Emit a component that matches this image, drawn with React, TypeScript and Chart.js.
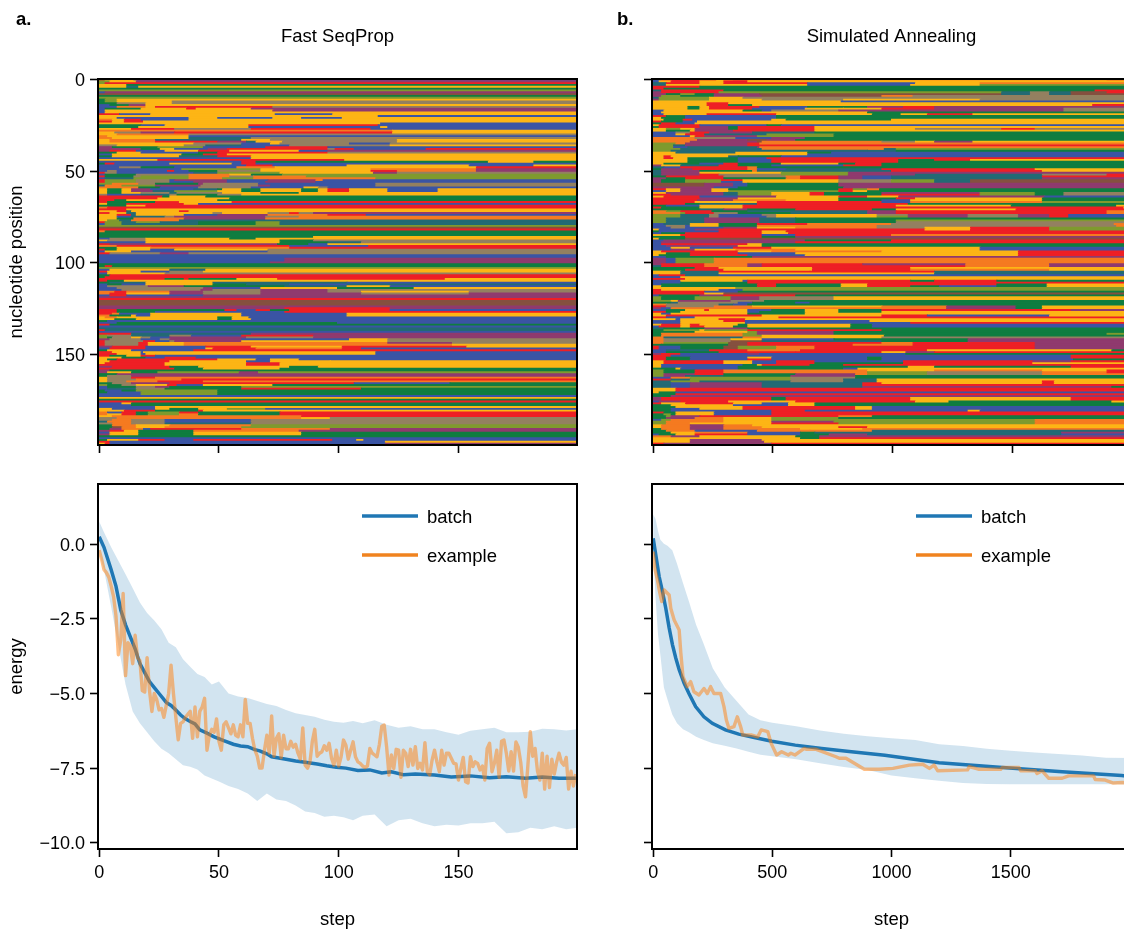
import { useEffect, useRef } from "react";
import { Chart, registerables } from "chart.js";

Chart.register(...registerables);

const palette: Record<string, string> = {
  R: "#EE1F25", Y: "#FDB515", G: "#0F7D40", B: "#3A54A4", O: "#F57A20",
  M: "#8F3A6E", T: "#236A74", L: "#7F9A2E", N: "#938060", W: "#85503F",
};

// each row: colour letter + step at which that colour ends
const rowsA = [
  "R3Y15B200","L5Y16M200","L3R200","Y12G200","Y12T17Y200","G200","L200","B3M200","W200","G200",
  "L200","G3L8Y200","G3L8Y31N200","G8N20Y31N200","B5G13M20Y200","B8O20Y24R73N200","B3G18Y37R41Y64M200","B3Y73M200","B3Y200","R9B22Y74B98Y200",
  "Y117B200","Y8B38Y50B73Y85B102Y200","O6Y11R18B38Y200","R6Y11R19Y200","Y118B200","G18B28Y63R117B200","G17Y63B118Y121B200","Y14R32N64R114B200","O123Y200","Y7N18M32R123Y200",
  "Y8O38N200","O4Y38B200","O6Y38T64N200","Y5O24T60Y72N125Y200","Y5O24R50M62T66Y77N125Y200","Y40N60B72Y76N105B122N200","N8Y36N45T60B80N122Y200","M6G25L44B70R96B200","M18G26Y32B46M54R96N99R107B137R200","M5R16B28Y42R55Y84B96M200",
  "G8Y18B42G50R96N200","B6Y35G44R54Y200","G6Y34T50R64Y200","B64Y200","Y25R103Y200","B60R66G163Y182G200","G3R7B30Y56B60R66B200","B62R73B104Y155B182Y200","B9N18G32B58O74Y158R200","B35L68Y114O158M200",
  "B4N8B29R32B38G50N68Y114R125O158M200","R3N8B40T50L76Y115M125N200","B3G16N38O55Y64G77L200","R3G15N18L38O55N65O87L200","B3T15L38O52L65O116L200","R3L16N30B32M54B71M91O94B200","R3L16N30B40M54B70M91B200","L6O17N24G42M44N67B91B116N200","T3O10L24M43N67M72B116N200","O5O17G26B42N64B86Y92N96B200",
  "Y4G10Y14M22B40T50G52Y60G68Y85G92Y96R105Y121B142Y200","Y4G10Y14M23T32L50Y60G68Y85G92Y96R105Y121B142Y200","Y4G10Y18N30T33N52Y68G84Y200","N4B18T30N33G50N60Y200","R27G30Y45G200","R25Y55G200","R7G12Y50G200","R4G24R34Y56R200","Y4G12R36Y42B200","G12Y20R200",
  "O4R200","R12Y200","Y8R12T14Y34R38Y200","R5Y12T16Y48N52Y71N80R84N90M200","Y8R14T16Y36B50M71O96R112B200","Y8B14T28N32M70N84O200","Y8G15O36M70O200","Y4L9T14O34T200","R3L10T16L26T42G66L76T200","B3L10T42G66L76T200",
  "L200","W200","R200","O3G200","G200","G200","G90Y200","B5N20Y55G66Y200","Y4N20Y76G90N200","B20Y76G96T110N200",
  "R5M75G88B96Y200","O8R80B113R200","G8Y22O80R200","R3G8Y22B32Y71N200","B3Y14B71N200","R5N26M38N200","B200","B200","B78M200","B78M200",
  "B72M200","G200","G3R6G200","L200","B5Y30T45Y200","R4Y18B30N44Y200","B4Y28N200","G5R200","G3R200","R28G36R38G58Y75R145Y200",
  "R4G11Y200","G5T20Y48T104B200","B4G10B20Y48G62T80B104T200","B4N21M36G50G78T104Y122B200","B8N44M48B68Y86Y100G132Y200","B10N43M48N68M96N200","O7R12O30M44N68M96N110Y155N200","O5R12Y30M44N68M110N155M200","B5R12B44M200","M200",
  "R200","W200","W200","W200","M200","M78R122M200","R8G50G53R58B66R72G80R122B200","R8G24B78R200","R6O9B22Y60B104Y200","O5G14Y16B22Y60B104Y200",
  "Y3O8Y50G56Y63B200","Y7G16Y50G56Y64B200","G4B200","B8G100B200","R5G200","B200","T200","R3T200","B200","R14T64M200",
  "L4N14T30N39B60R90M200","L4G6N14Y18N22B30M62N90M200","M5N18B26N30M60B105Y121N200","R3N19R24B30N32M60Y121N200","R3N17R21Y36O121M148N200","R3N17R21Y36O148Y200","M6R20B45R64Y102R154Y200","B5R20B45Y48R66O102R110B200","G4Y14B40R200","R6Y18B19Y116B200",
  "R8Y18B20Y116B200","R5G12Y18R24B200","Y10G20B28R41B200","Y4G8R50Y66B72Y84B200","Y5R30Y62B72Y97Y200","Y3R28Y62R76Y200","R28Y62R76Y86Y200","M6R30G42Y76Y80G92Y200","R32G44Y76G92G200","M5G200",
  "M4Y14G25L59M67L200","G8M200","G4N14M200","Y4N14R24O200","Y4N16O35R200","Y4N12O25R44O200","G6N14M30R107B147G200","L4G10N16Y29R33B44Y73G200","B4G16N24M30G60L200","B4T16N28G60R110G200",
  "G3B10G16L50G200","G4B18L50G200","B18L50G200","B200","Y200","G200","R200","B10Y14G200","B14G200","B24Y200",
  "Y6B24Y30G42Y54L70B200","Y11R24G42R44Y200","O4B10R16G21L34R42G76R200","O4Y10R16G21L34O42G76R200","Y6O85R200","N8O85Y97N200","N6O14N28B64N200","T4O14N28B64N200","N6O14N28T64N200","G6O16Y30O64L200",
  "G6W10O16Y28O60L200","G5M10O19B22R60O97M200","M5R11Y17G40O84M200","B5Y17G40Y85G200","M5Y17G40Y85G200","G200","B200","G4Y17R28B40R98B108Y111B200","R5B120Y200","Y3R5B120M200",
];

const rowsB = [
  "B4R27Y34O190R200","B3Y8R20Y30R40Y200","T6R20Y30R65B110Y137O200","T6Y65B108Y137L200","R20G200","R5G200","T4R30G185R200","M4R28L146T158N166T175W190R200","M6G12L18G26M45W146T158N166T175W200","M4L12G26M46W96O109N200",
  "T3L24Y38N200","M3L24Y46N80Y137N200","Y79B200","Y23R32Y200","Y23R32G42Y184R200","Y15G20Y24R45B65G90M105R118M200","Y15G20Y24R42B64Y80Y96R118M172N200","B5Y38G46B50N78M172N200","B4Y90G200","B5Y23R52Y92G104Y115R134Y200",
  "R6G14B52G200","Y4G14B52G200","Y5G13R17B50Y56G100Y200","R4G13B19Y200","G4R10B18Y200","Y3R20B48G54B200","G3R20M32G36R68Y200","Y6L12Y18M32G36R68Y110N146R160N200","Y6G16Y18M34R68Y200","B10N16R24M42T68G200",
  "B10Y14R22T48L76G200","B16Y18R22M44L76G200","O18N35B50M64G200","O19M40W48M60G200","O16M44W46O96N110Y118M134Y200","L10O14M40R45O200","L9T14M40R200","L9B15T44M45O200","L8L12T46O97T102L200","L8T90T102G200",
  "Y10T35Y65G75B200","Y65B200","Y5R8Y32T36G54B200","Y5R9Y15G36B48R200","Y15G36B50R103G118R133Y200","Y15G36B50R103G200","Y5G20B30R36G54Y78G85R96G200","M4Y12T28R36G50B80R96G200","T5B12R40O44G200","G4M17R40O44B56T96R160Y200",
  "T4M20G42O44T100R163Y200","T4M20Y54L82M200","T4M20R28N54L82M110T163N190R200","G6R30N56O62R78M88B100T163R200","M6G14R30G56O62R78M88B100T163M200","M4G14L29R38Y78N100L118T133W200","M4G14L29B38Y78N100L118T133W200","W22M34B40G78M200","W22M34B40G78M200","M26B36G80M200",
  "R6Y12M25Y32G78R84L90O95G200","B6Y12M25Y32L78R84Y90G200","Y6M30T36L50Y66R72G96M137L160G172N200","R8M30T36L50Y66R72G96R137L160G172N200","Y5R20B36M52Y78R90Y103M164B200","R20M36Y56Y78G102R110Y163G200","R19M34O56Y78G96B108Y163G200","R18Y44R96B108O163L200","R14G20T44R107G200","G6B20Y38R102Y150G194Y200",
  "R4G20Y38R197Y200","G20T30M40G60R92G102Y152R200","O6L12R25G40T90M102R190O200","O12L14R26N36G58T90M102R190O200","L12T24N28B46N52Y94N107M132N153M166R174B200","L12T24N28B48N52Y94L107M132N153M166R174B200","L6T22M45T60G200","L6T22M45T60G102L200","L6T22M45T60G102N200","B5T16Y28G44R65O100N193O200",
  "B6N14B16Y28G44O94N194O200","B8N14B30M44Y60O94N114Y133R166L200","Y3B18M28R114Y133R166L200","G3B28R46Y56R200","B4G14R46Y57R200","Y12R32R46B60R100O200","G14R33R46G60M200","Y3G14W200","B5M64G100R200","B4M60R200",
  "B4R40Y46G200","B6M36Y46G200","B8Y16B34R50Y137B200","B8M18Y35O60Y137B200","Y4R36Y50O96Y153R200","Y6G16R36B60Y153R200","Y3G16R40B64Y153R200","B6G42M200","M6B10L26O200","M6B10L26O200",
  "M6B10L26O200","M4R22O40M46R88M131O166M200","T4R22O40M46R131O166M200","G18R28Y67R108Y200","G14R30Y67R108O166Y200","Y12T28R66R118T200","Y12T28Y118T200","B3R14T28B200","B12Y200","R14Y200",
  "B12Y18Y38B40R108G118R144G200","B12G40R200","B4G44R52G79Y90R144G165Y200","Y4G44R52G79Y90R108G120B144G165Y200","Y35L200","R4Y28B38L200","R22B36G200","R22Y30W200","B3G20M30R60G200","L4G18L33M45N76Y200",
  "L4G18L33M45N76Y200","L8Y11M33N47G200","G8T11N36B42G60B66G200","O6N28T34B40G200","R6N26O42Y96O123M152G163Y200","M4B8O76O123M152G163Y200","B6G14Y22R24Y40B50G64Y78G96R175M200","R6G12Y40B45G64Y78G96Y200","Y4B8Y40G64Y200","Y6R46Y96R115B166Y200",
  "R6B18Y53R200","Y10B12Y28R39Y200","B12Y30R39B91Y200","B12Y39B108R200","Y4R12Y16R20Y36G40Y83G92B200","B3R12Y16R22Y34G40Y83G92B200","T5G22M40G200","G5L20Y22L40R96G200","G18Y40L44M76G200","G4O38L44M76G190L200",
  "G4O38L46Y97G200","O5T38O46Y96N200","O5N33Y46B76G132M200","O5N33W46T96G132M200","O5L32W40R96O109R160M200","G4G32W40R84O109R160M200","R3B12G30W36L52O68R160M200","R3B12G30W36L52O68R160M200","B6T24R40O62R115Y192G200","B6G28R60R96Y106M118R200",
  "M4R12B40M45B106G200","R8B46B175R200","R6G16B40Y50B90G96B175R200","R6G16B40R50B90G96B176G200","Y5R30Y42B52R68B105R159M175R200","Y5R30Y42B52R68G105R159Y200","Y4B38G44Y46R66G80R200","Y4B36G107Y118G175R200","G10Y12B36G80B86Y200","L5G18R30O90Y118O163Y190R200",
  "L5G18R30O90L115N163O190R200","L5M18R30G60M85O90L115N163O200","L5M14T30G58M85G200","B8O16L58N85G200","R8T16L58N80T94Y200","T8L20T58N80T94Y163R168Y200","T8B16M46T88R96Y163R168Y200","T8B16M46T88R200","T8B16M46T88M192G200","Y10R200",
  "Y10R200","Y3G10B200","G10R200","G8M200","M4R50G56R108Y175R200","M4R50G56R108Y175R200","B3M12R32Y60R96R110Y124G192Y200","R4Y14R34Y46B57Y68G200","G8Y14Y34B46B57Y68G200","G10Y14Y38R85Y92B200",
  "G8B20Y38R85Y92B200","G8B50R64B132Y137B200","R5G10Y26B50R200","G5L8G10Y26B50R200","G6L8M20R78O92G200","G6M18O30Y50L78G200","B4L8O30Y50L78L160O200","L6O30Y50M76L160O200","L6O16Y50R78L160O200","Y4O16M30O42Y200",
  "Y4O16M30O46Y78R90Y200","G4O16M30O62Y88O200","G6O18B44O66O92T200","G8Y18O40B62G68T171M200","B3G10Y18R40B62G74M90T171B200","O8M20Y60G70M200","Y62G70R200","Y16M46Y200","Y16M47Y200","R5M50R200",
];

const heatTicks = [0, 50, 100, 150];
const stepTicksA = [0, 50, 100, 150];
const stepTicksB = [0, 500, 1000, 1500];
const energyTicks = [0, -2.5, -5, -7.5, -10];

const batchStepsA = [0,2,5,7,9,11,13,15,17,19,21,23,25,28,30,32,34,36,38,40,42,45,48,52,56,59,62,65,67,70,72,75,78,82,86,91,95,99,103,108,113,118,122,127,132,140,147,155,163,170,178,185,192,199];
const batchA = [0.25,-0.1,-0.85,-1.4,-2.2,-2.7,-3.1,-3.5,-4.0,-4.3,-4.6,-4.8,-5.0,-5.3,-5.4,-5.55,-5.72,-5.85,-5.94,-6.02,-6.22,-6.33,-6.45,-6.58,-6.7,-6.76,-6.78,-6.88,-6.92,-7.02,-7.12,-7.16,-7.2,-7.26,-7.3,-7.36,-7.42,-7.47,-7.5,-7.58,-7.56,-7.66,-7.62,-7.72,-7.7,-7.73,-7.8,-7.76,-7.82,-7.79,-7.84,-7.8,-7.84,-7.84];

const exampleA = [
  -0.2,-0.5,-0.85,-0.95,-1.1,-1.4,-1.75,-2.4,-3.7,-3.2,
  -1.65,-4.4,-3.3,-3.4,-4.0,-3.05,-3.8,-3.9,-4.9,-4.95,
  -3.8,-4.9,-5.6,-5.0,-5.2,-5.55,-5.5,-5.8,-5.4,-5.0,
  -4.05,-5.0,-5.8,-6.55,-6.0,-5.95,-5.8,-5.7,-5.6,-6.5,
  -5.45,-6.45,-5.6,-5.45,-5.16,-6.9,-6.4,-6.2,-6.3,-5.85,
  -6.6,-6.9,-6.05,-5.95,-6.15,-6.35,-6.05,-6.4,-6.45,-6.05,
  -6.45,-5.2,-6.0,-6.0,-6.5,-6.9,-7.1,-7.5,-7.5,-6.9,
  -6.4,-7.0,-5.75,-7.1,-6.5,-6.35,-7.15,-6.4,-6.85,-6.85,
  -6.6,-6.8,-6.7,-7.0,-7.2,-6.15,-7.4,-7.5,-7.3,-6.6,
  -6.2,-7.1,-7.0,-6.95,-6.75,-6.9,-6.67,-7.17,-7.4,-6.9,
  -7.43,-7.12,-6.56,-6.73,-7.2,-6.9,-6.62,-7.12,-7.29,-7.34,
  -7.43,-7.48,-7.43,-6.84,-7.0,-7.06,-7.12,-6.7,-6.1,-6.06,
  -6.78,-7.73,-7.06,-7.51,-6.87,-6.9,-7.81,-6.9,-7.0,-7.45,
  -6.87,-7.4,-6.78,-7.51,-7.34,-7.56,-6.65,-7.62,-7.73,-7.23,
  -6.9,-7.29,-7.62,-6.9,-7.4,-7.0,-7.0,-7.17,-7.34,-7.36,
  -7.9,-7.51,-7.14,-7.96,-8.0,-7.12,-7.45,-7.29,-7.34,-7.56,
  -7.43,-7.9,-6.84,-6.67,-7.62,-7.34,-6.9,-7.81,-6.6,-6.56,
  -7.0,-7.6,-6.95,-7.6,-6.62,-6.8,-7.3,-8.1,-8.46,-7.4,
  -6.28,-7.1,-6.84,-7.6,-7.9,-7.0,-8.2,-7.1,-8.15,-7.2,
  -7.7,-7.3,-7.0,-7.3,-7.4,-7.14,-8.2,-7.6,-8.1,-7.7,
];

const bandStepsA = [0,2,5,8,11,14,17,20,23,26,29,32,35,38,41,44,47,50,54,58,62,66,70,74,78,82,86,90,94,98,102,106,110,115,120,125,130,135,140,145,150,155,160,165,170,175,180,185,190,195,199.5];
const upperA = [0.76,0.4,-0.1,-0.55,-1.0,-1.47,-1.95,-2.3,-2.55,-2.85,-3.3,-3.45,-3.85,-4.1,-4.35,-4.45,-4.7,-4.6,-5.0,-5.1,-5.15,-5.25,-5.35,-5.42,-5.55,-5.66,-5.72,-5.78,-5.88,-5.95,-5.98,-5.92,-6.0,-5.9,-6.05,-6.15,-6.1,-6.2,-6.2,-6.3,-6.38,-6.25,-6.2,-6.15,-6.3,-6.3,-6.28,-6.18,-6.2,-6.24,-6.2];
const lowerA = [-0.3,-0.85,-2.1,-3.4,-4.7,-5.6,-6.0,-6.3,-6.6,-6.85,-7.0,-7.2,-7.4,-7.45,-7.55,-7.75,-7.85,-7.95,-8.1,-8.2,-8.35,-8.6,-8.35,-8.55,-8.6,-8.75,-8.95,-9.0,-9.13,-9.1,-9.15,-9.25,-9.1,-9.05,-9.45,-9.25,-9.2,-9.35,-9.45,-9.4,-9.42,-9.35,-9.35,-9.3,-9.68,-9.65,-9.5,-9.55,-9.45,-9.55,-9.5];

const batchStepsB = [0,25,39,53,67,81,95,109,130,150,178,213,248,303,359,429,498,596,707,832,972,1200,1480,1716,1966,1999];
const batchB = [0.2,-1.08,-1.59,-2.15,-2.8,-3.37,-3.82,-4.2,-4.66,-5.0,-5.44,-5.78,-6.0,-6.22,-6.36,-6.48,-6.6,-6.73,-6.84,-6.95,-7.07,-7.32,-7.49,-7.62,-7.75,-7.78];

const exampleStepsB = [0,8,18,28,36,46,67,74,88,109,116,125,143,157,171,192,213,227,241,255,283,297,307,318,339,353,367,376,411,439,453,481,495,498,518,539,567,578,595,634,644,684,767,781,809,872,886,914,950,1006,1075,1131,1159,1179,1194,1319,1326,1368,1458,1465,1535,1542,1604,1611,1632,1660,1716,1743,1848,1855,1897,1931,1969,1999];
const exampleB = [-0.25,-0.86,-1.2,-1.64,-1.92,-1.53,-1.7,-2.15,-2.54,-2.87,-3.65,-4.44,-4.77,-4.6,-4.94,-5.05,-4.83,-5.0,-4.77,-5.0,-5.0,-5.44,-5.89,-6.17,-6.11,-5.78,-6.11,-6.39,-6.39,-6.45,-6.22,-6.28,-6.67,-6.67,-7.06,-6.95,-7.06,-7.0,-7.06,-6.84,-6.87,-6.87,-7.12,-7.17,-7.17,-7.47,-7.54,-7.54,-7.54,-7.51,-7.4,-7.37,-7.51,-7.4,-7.59,-7.56,-7.45,-7.54,-7.54,-7.48,-7.48,-7.59,-7.59,-7.68,-7.59,-7.84,-7.84,-7.76,-7.76,-7.88,-7.9,-8.0,-7.98,-8.0];

const bandStepsB = [0,10,20,30,45,60,80,100,125,150,180,210,250,300,350,400,450,500,600,700,800,900,1000,1100,1200,1300,1400,1500,1600,1700,1800,1900,2005];
const upperB = [1.0,0.85,0.45,0.15,0.02,-0.05,-0.2,-0.65,-1.3,-1.92,-2.7,-3.3,-4.15,-4.8,-5.25,-5.7,-5.9,-5.98,-6.1,-6.24,-6.35,-6.43,-6.5,-6.56,-6.7,-6.76,-6.85,-6.92,-6.98,-7.03,-7.08,-7.15,-7.16];
const lowerB = [-0.2,-1.8,-3.0,-3.7,-4.8,-5.2,-5.7,-6.0,-6.2,-6.3,-6.45,-6.55,-6.67,-6.75,-6.84,-6.95,-7.05,-7.1,-7.2,-7.34,-7.46,-7.56,-7.75,-7.84,-7.92,-8.0,-8.03,-8.04,-8.04,-8.04,-8.04,-8.04,-8.04];

const BLACK = "#000000";
const FONT = "'Liberation Sans', Arial, sans-serif";
const SIZE = 18.5;
const TICK_SIZE = 18;
Chart.defaults.font.family = FONT;
Chart.defaults.font.size = SIZE;
Chart.defaults.color = BLACK;

const framePlugin = {
  id: "frame",
  afterDatasetsDraw(chart: any) {
    const { ctx, chartArea: a } = chart;
    ctx.save();
    ctx.strokeStyle = BLACK;
    ctx.lineWidth = 2;
    ctx.strokeRect(a.left, a.top, a.right - a.left, a.bottom - a.top);
    ctx.restore();
  },
};

function keyPlugin() {
  return {
    id: "lineKey",
    afterDatasetsDraw(chart: any) {
      const { ctx, chartArea: a } = chart;
      const items: [string, string, number][] = [
        ["batch", "#1F77B4", 32],
        ["example", "#F0831F", 71],
      ];
      ctx.save();
      ctx.font = `${SIZE}px ${FONT}`;
      ctx.textBaseline = "middle";
      for (const [label, color, dy] of items) {
        ctx.strokeStyle = color;
        ctx.lineWidth = 3.5;
        ctx.beginPath();
        ctx.moveTo(a.left + 264, a.top + dy);
        ctx.lineTo(a.left + 320, a.top + dy);
        ctx.stroke();
        ctx.fillStyle = BLACK;
        ctx.fillText(label, a.left + 329, a.top + dy + 1.5);
      }
      ctx.restore();
    },
  };
}

function letterPlugin(text: string, x: number) {
  return {
    id: "panelLetter",
    afterDraw(chart: any) {
      const { ctx } = chart;
      ctx.save();
      ctx.font = `bold ${SIZE}px ${FONT}`;
      ctx.fillStyle = BLACK;
      ctx.textBaseline = "middle";
      ctx.fillText(text, x, 19.5);
      ctx.restore();
    },
  };
}

function axisBase(ticks: number[], showLabels: boolean, labelOffset: number, fmt?: (v: number) => string) {
  return {
    type: "linear" as const,
    offset: false,
    afterBuildTicks: (s: any) => {
      s.ticks = ticks.map((value) => ({ value }));
    },
    grid: { display: true, offset: false, drawOnChartArea: false, drawTicks: true, tickLength: 8, tickWidth: 1.6, tickColor: BLACK },
    border: { display: false },
    ticks: {
      display: showLabels,
      autoSkip: false,
      maxRotation: 0,
      padding: 5,
      labelOffset,
      color: BLACK,
      font: { size: TICK_SIZE, family: FONT },
      callback: (v: any) => (fmt ? fmt(Number(v)) : String(v)),
    },
  };
}

function fixX(h: number) {
  return (s: any) => {
    s.height = h;
    s.paddingLeft = 0;
    s.paddingRight = 0;
  };
}

function fixY(w: number) {
  return (s: any) => {
    s.width = w;
    s.paddingTop = 0;
    s.paddingBottom = 0;
  };
}

function parseRows(rows: string[]) {
  const data: { x: [number, number]; y: number }[] = [];
  const colors: string[] = [];
  rows.forEach((row, y) => {
    let start = -0.5;
    for (const m of row.matchAll(/([A-Z])(\d+)/g)) {
      const end = Number(m[2]) - 0.5;
      if (end <= start) continue;
      data.push({ x: [start, end], y });
      colors.push(palette[m[1]]);
      start = end;
    }
  });
  return { data, colors };
}

function pts(xs: number[], ys: number[]) {
  return xs.map((x, i) => ({ x, y: ys[i] }));
}

const energyFmt = (v: number) => v.toFixed(1).replace("-", "\u2212");

function heatConfig(rows: string[], title: string, yWidth: number, yLabels: boolean, plugin: any) {
  const { data, colors } = parseRows(rows);
  return {
    type: "bar" as const,
    data: {
      datasets: [{ data, backgroundColor: colors, inflateAmount: 0.5, barPercentage: 1, categoryPercentage: 1, borderWidth: 0 }],
    },
    plugins: [framePlugin, plugin],
    options: {
      responsive: false,
      animation: false as const,
      indexAxis: "y" as const,
      layout: { padding: { right: 1, top: 0, left: 0, bottom: 0 } },
      plugins: {
        legend: { display: false },
        tooltip: { enabled: false },
        title: {
          display: true, text: title, fullSize: false, color: BLACK,
          font: { size: SIZE, weight: "normal" as const, family: FONT },
          padding: { top: 25.5, bottom: 79 - 25.5 - SIZE * 1.2 },
        },
      },
      scales: {
        x: {
          ...axisBase(heatTicks, false, 0),
          position: "bottom" as const,
          min: -0.5, max: 199.5,
          afterFit: fixX(15),
        },
        y: {
          ...axisBase(heatTicks, yLabels, 1.5),
          position: "left" as const,
          reverse: true,
          min: -0.5, max: 199.5,
          afterFit: fixY(yWidth),
          title: { display: yLabels, text: "nucleotide position", color: BLACK, font: { size: SIZE, family: FONT }, padding: { top: 6, bottom: 0 } },
        },
      },
    },
  };
}

function energyConfig(
  exampleData: any[], batchData: any[], upperData: any[], lowerData: any[],
  xTicks: number[], xMin: number, xMax: number, yWidth: number, yLabels: boolean,
) {
  return {
    type: "line" as const,
    data: {
      datasets: [
        { label: "example", data: exampleData, borderColor: "rgba(255,127,14,0.5)", borderWidth: 3.4, pointRadius: 0, tension: 0, fill: false, borderJoinStyle: "round" as const },
        { label: "batch", data: batchData, borderColor: "#1F77B4", borderWidth: 3.5, pointRadius: 0, tension: 0, fill: false },
        { label: "upper", data: upperData, borderWidth: 0, borderColor: "rgba(0,0,0,0)", pointRadius: 0, tension: 0, fill: "+1", backgroundColor: "rgba(31,119,180,0.2)" },
        { label: "lower", data: lowerData, borderWidth: 0, borderColor: "rgba(0,0,0,0)", pointRadius: 0, tension: 0, fill: false },
      ],
    },
    plugins: [framePlugin, keyPlugin()],
    options: {
      responsive: false,
      animation: false as const,
      layout: { padding: { top: 14, right: 1, left: 0, bottom: 0 } },
      plugins: { legend: { display: false }, tooltip: { enabled: false } },
      scales: {
        x: {
          ...axisBase(xTicks, true, 0),
          position: "bottom" as const,
          min: xMin, max: xMax,
          afterFit: fixX(82),
          title: { display: true, text: "step", color: BLACK, font: { size: SIZE, family: FONT }, padding: { top: 0, bottom: 0 } },
        },
        y: {
          ...axisBase(energyTicks, yLabels, 1.5, energyFmt),
          position: "left" as const,
          min: -10.21, max: 2.02,
          afterFit: fixY(yWidth),
          title: { display: yLabels, text: "energy", color: BLACK, font: { size: SIZE, family: FONT }, padding: { top: 6, bottom: 0 } },
        },
      },
    },
  };
}

export default function App() {
  const heatARef = useRef<HTMLCanvasElement>(null);
  const heatBRef = useRef<HTMLCanvasElement>(null);
  const lineARef = useRef<HTMLCanvasElement>(null);
  const lineBRef = useRef<HTMLCanvasElement>(null);

  useEffect(() => {
    const charts = [
      new Chart(heatARef.current!, heatConfig(rowsA, "Fast SeqProp", 98, true, letterPlugin("a.", 16)) as any),
      new Chart(heatBRef.current!, heatConfig(rowsB, "Simulated Annealing", 52, false, letterPlugin("b.", 17)) as any),
      new Chart(
        lineARef.current!,
        energyConfig(exampleA.map((y, x) => ({ x, y })), pts(batchStepsA, batchA), pts(bandStepsA, upperA), pts(bandStepsA, lowerA), stepTicksA, -0.5, 199.5, 98, true) as any,
      ),
      new Chart(
        lineBRef.current!,
        energyConfig(pts(exampleStepsB, exampleB), pts(batchStepsB, batchB), pts(bandStepsB, upperB), pts(bandStepsB, lowerB), stepTicksB, -5, 2005, 10, false) as any,
      ),
    ];
    return () => charts.forEach((c) => c.destroy());
  }, []);

  const abs = (left: number, top: number) => ({ position: "absolute" as const, left, top, display: "block" });

  return (
    <div style={{ position: "fixed", left: 0, top: 0, width: 1124, height: 932, overflow: "hidden", background: "#fff" }}>
      <canvas ref={heatARef} width={578} height={460} style={abs(0, 0)} />
      <canvas ref={heatBRef} width={532} height={460} style={abs(600, 0)} />
      <canvas ref={lineARef} width={578} height={461} style={abs(0, 470)} />
      <canvas ref={lineBRef} width={490} height={461} style={abs(642, 470)} />
    </div>
  );
}
